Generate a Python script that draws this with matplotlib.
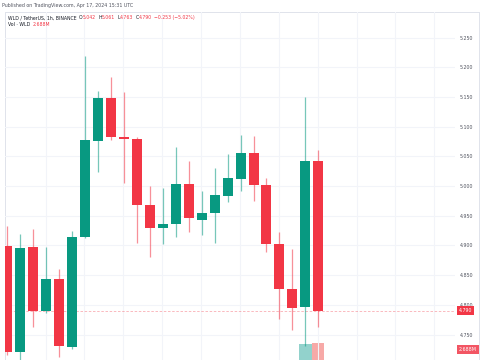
import matplotlib
matplotlib.use('Agg')
import matplotlib.pyplot as plt

# WLD / USDT 1h candles
opens  = [4.899, 4.720, 4.897, 4.790, 4.844, 4.729, 4.914, 5.076, 5.148, 5.083,
          5.080, 4.969, 4.929, 4.937, 5.004, 4.943, 4.954, 4.983, 5.012, 5.056,
          5.002, 4.903, 4.826, 4.796, 5.042]
highs  = [4.932, 4.919, 4.927, 4.898, 4.860, 4.924, 5.219, 5.160, 5.184, 5.158,
          5.082, 5.000, 4.997, 5.065, 5.042, 4.991, 5.031, 5.054, 5.086, 5.084,
          5.014, 4.922, 4.894, 5.150, 5.061]
lows   = [4.715, 4.700, 4.763, 4.787, 4.713, 4.725, 4.913, 5.024, 5.078, 5.005,
          4.905, 4.880, 4.902, 4.915, 4.922, 4.918, 4.905, 4.973, 4.991, 4.975,
          4.889, 4.777, 4.758, 4.730, 4.763]
closes = [4.720, 4.896, 4.789, 4.844, 4.730, 4.915, 5.078, 5.148, 5.083, 5.080,
          4.968, 4.929, 4.936, 5.004, 4.946, 4.955, 4.985, 5.013, 5.055, 5.002,
          4.903, 4.826, 4.795, 5.042, 4.790]
# volume in millions (only the last two reach above the bottom edge)
volumes = [0.9, 1.0, 0.8, 0.5, 0.6, 0.9, 1.6, 1.1, 0.8, 0.7,
           1.0, 0.6, 0.4, 0.6, 0.5, 0.3, 0.4, 0.4, 0.5, 0.5,
           0.9, 0.8, 0.7, 2.66, 2.688]
price_ticks = [4.75, 4.80, 4.85, 4.90, 4.95, 5.00, 5.05, 5.10, 5.15, 5.20, 5.25]
last_price = 4.790

green = '#089981'
red = '#f23645'
txt = '#131722'
W, H = 485, 360

fig = plt.figure(figsize=(4.85, 3.6), dpi=100)
fig.patch.set_facecolor('white')

ax = fig.add_axes([5 / W, 0, 450 / W, 348 / H])
ax2 = ax.twinx()
ax.set_zorder(2)
ax.patch.set_visible(False)
ax2.set_zorder(1)

ax.set_xlim(-0.18, 34.55)
ax.set_ylim(4.7072, 5.2931)
ax2.set_ylim(2.0, 16.5)

for a in (ax, ax2):
    for s in a.spines.values():
        s.set_visible(False)

# grid
for k in range(1, 12):
    ax.axvline(3 * k - 0.05, color='#f2f4f9', lw=0.8, zorder=0)
for p in price_ticks:
    ax.axhline(p, color='#f2f4f9', lw=0.8, zorder=0)

# volume
for i, v in enumerate(volumes):
    c = '#92d2cc' if closes[i] >= opens[i] else '#f7a9a7'
    ax2.bar(i, v, width=0.95, color=c)
ax2.set_yticks([])
ax2.set_xticks([])

# candles
for i in range(len(opens)):
    c = green if closes[i] >= opens[i] else red
    ax.vlines(i, lows[i], highs[i], color=c, lw=0.9, alpha=0.55, zorder=3)
    ax.bar(i, abs(closes[i] - opens[i]), bottom=min(opens[i], closes[i]),
           width=0.77, color=c, zorder=4)

ax.axhline(last_price, color=red, lw=0.6, alpha=0.4, ls=(0, (3, 2)), zorder=2)

ax.yaxis.tick_right()
ax.set_yticks(price_ticks)
ax.set_yticklabels(['%.3f' % p for p in price_ticks])
ax.tick_params(axis='y', length=0, pad=3.2, labelsize=3.4, labelcolor='#50535e')
ax.set_xticks([])

ax.text(1.0085, last_price, '%.3f' % last_price, transform=ax.get_yaxis_transform(),
        fontsize=3.4, color='white', va='center', ha='left', zorder=10, clip_on=False,
        bbox=dict(boxstyle='square,pad=0.45', fc=red, ec='none'))
ax2.text(1.0085, volumes[-1] - 0.25, '%.3fM' % volumes[-1], transform=ax2.get_yaxis_transform(),
         fontsize=3.4, color='white', va='center', ha='left', zorder=10, clip_on=False,
         bbox=dict(boxstyle='square,pad=0.45', fc='#f25563', ec='none'))

# chart frame
fig.add_artist(plt.Line2D([5 / W, 479 / W], [1 - 12 / H, 1 - 12 / H], color='#e0e3eb', lw=0.7))
fig.add_artist(plt.Line2D([5 / W, 5 / W], [0, 1 - 12 / H], color='#e0e3eb', lw=0.7))
fig.add_artist(plt.Line2D([479 / W, 479 / W], [0, 1 - 12 / H], color='#e0e3eb', lw=0.7))

# header text
fig.text(2 / W, 1 - 5.7 / H, 'Published on TradingView.com, Apr 17, 2024 15:31 UTC',
         fontsize=3.4, color='#50535e', va='center', ha='left')

renderer = fig.canvas.get_renderer()


def chain(x, y, parts):
    # parts: (text, colour, gap in px after it)
    for s, c, gap in parts:
        t = fig.text(x / W, 1 - y / H, s, fontsize=3.3, color=c, va='center', ha='left')
        bb = t.get_window_extent(renderer=renderer)
        x = bb.x1 + gap


chain(8.3, 17.7, [('WLD / TetherUS, 1h, BINANCE', txt, 2), ('O', txt, 0.4), ('5.042', red, 2),
                  ('H', txt, 0.4), ('5.061', red, 2), ('L', txt, 0.4), ('4.763', red, 2),
                  ('C', txt, 0.4), ('4.790', red, 2), ('\u22120.253 (\u22125.02%)', red, 0)])
chain(8.3, 24.5, [('Vol \u00b7 WLD', txt, 2.5), ('2.688M', red, 0)])

plt.savefig('out.png', dpi=100)
plt.close()
